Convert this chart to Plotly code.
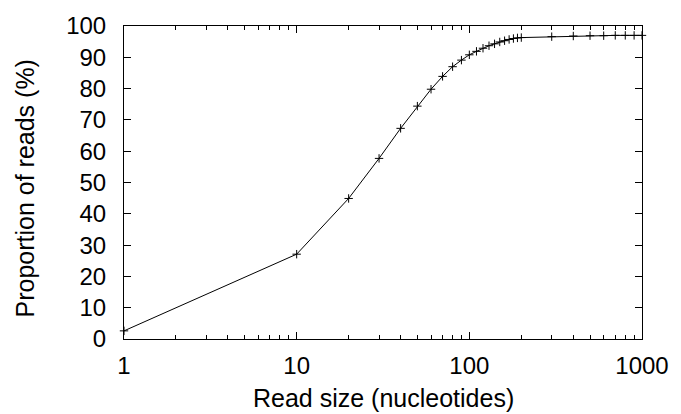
import plotly.graph_objects as go

read_size = [1, 10, 20, 30, 40, 50, 60, 70, 80, 90, 100, 110, 120, 130, 140, 150,
             160, 170, 180, 190, 200, 300, 400, 500, 600, 700, 800, 900, 1000]
proportion = [2.6, 27.1, 44.9, 57.7, 67.3, 74.4, 79.8, 83.9, 87.0, 89.1, 90.8, 91.9,
              92.9, 93.7, 94.3, 94.9, 95.3, 95.7, 96.0, 96.2, 96.3, 96.6, 96.8, 96.9,
              96.9, 97.0, 97.0, 97.0, 97.0]
x_tickvals = [1, 10, 100, 1000]
x_ticktext = ["1", "10", "100", "1000"]
y_tickvals = list(range(0, 101, 10))

FONT = "Liberation Sans, Arial, sans-serif"

fig = go.Figure()
fig.add_trace(go.Scatter(
    x=read_size, y=proportion, mode="lines+markers",
    line=dict(color="black", width=1),
    marker=dict(symbol="cross-thin", size=6, line=dict(color="black", width=1)),
    showlegend=False, cliponaxis=False,
))

fig.update_layout(
    width=681, height=414,
    margin=dict(l=124, r=33, t=23, b=75),
    paper_bgcolor="white", plot_bgcolor="white",
    font=dict(family=FONT, size=24, color="black"),
    annotations=[
        dict(text="Read size (nucleotides)", xref="paper", yref="paper",
             x=0.5, y=-0.19, xanchor="center", yanchor="middle",
             showarrow=False, font=dict(size=25)),
        dict(text="Proportion of reads (%)", xref="paper", yref="paper",
             x=-0.191, y=0.481, xanchor="center", yanchor="middle", textangle=-90,
             showarrow=False, font=dict(size=25)),
    ],
)
fig.update_xaxes(
    type="log", range=[0, 3],
    tickvals=x_tickvals, ticktext=x_ticktext,
    ticks="inside", ticklen=7, tickwidth=1, tickcolor="black",
    minor=dict(ticks="inside", ticklen=4, tickwidth=1, tickcolor="black", dtick="D1", showgrid=False),
    showline=True, linecolor="black", linewidth=1, mirror="ticks",
    showgrid=False, zeroline=False,
    ticklabelstandoff=5,
)
fig.update_yaxes(
    range=[0, 100], tickvals=y_tickvals,
    ticks="inside", ticklen=7, tickwidth=1, tickcolor="black",
    showline=True, linecolor="black", linewidth=1, mirror="ticks",
    showgrid=False, zeroline=False,
    ticklabelstandoff=12,
)

fig.write_html("out.html")
